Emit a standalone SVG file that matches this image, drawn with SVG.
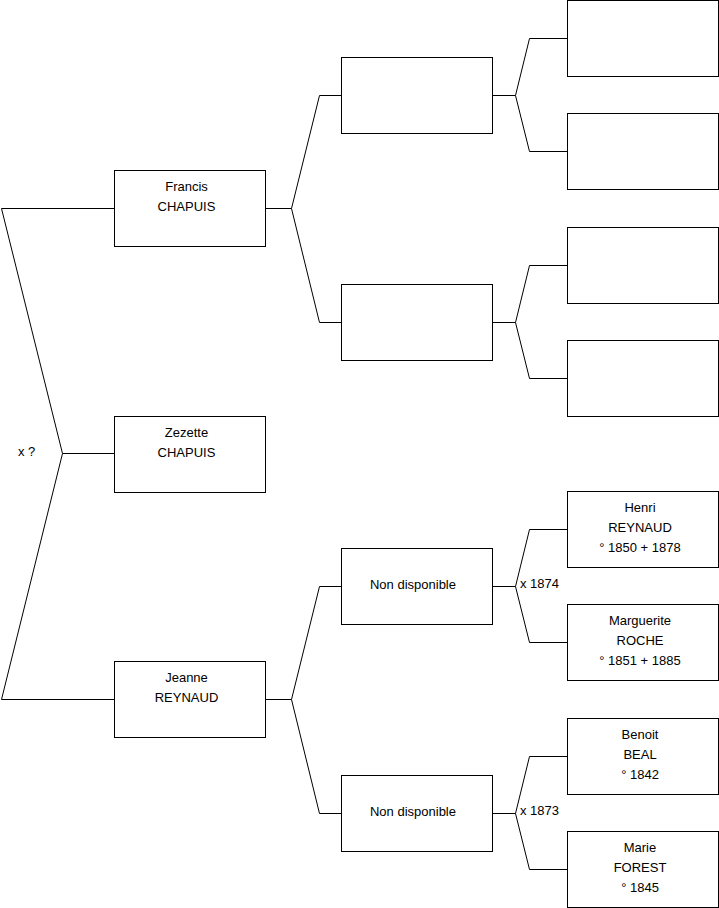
<svg xmlns="http://www.w3.org/2000/svg" width="719" height="908" viewBox="0 0 719 908">
<style>
.box{fill:#fff;stroke:#000;stroke-width:1}
.c{fill:none;stroke:#000;stroke-width:1}
text{font-family:"Liberation Sans",Arial,sans-serif;font-size:13px;fill:#000}
.m{text-anchor:middle}
</style>
<rect width="719" height="908" fill="#fff"/>
<g id="connectors">
<path class="c" d="M114 208.5H1.5L62.5 453.5L1.5 699.5H114M62.5 453.5H114"/>
<path class="c" d="M265 208.5H291.5L319.5 95.5H341M291.5 208.5L319.5 322.5H341"/>
<path class="c" d="M265 699.5H291.5L319.5 586.5H341M291.5 699.5L319.5 813.5H341"/>
<path class="c" d="M492 95.5H515.5L529.5 38.5H567M515.5 95.5L529.5 151.5H567"/>
<path class="c" d="M492 322.5H515.5L529.5 265.5H567M515.5 322.5L529.5 378.5H567"/>
<path class="c" d="M492 586.5H515.5L529.5 529.5H567M515.5 586.5L529.5 642.5H567"/>
<path class="c" d="M492 813.5H515.5L529.5 756.5H567M515.5 813.5L529.5 869.5H567"/>
<text x="18" y="456">x ?</text>
<text x="520" y="588">x 1874</text>
<text x="520" y="815">x 1873</text>
</g>
<g id="francis"><rect class="box" x="114.5" y="170.5" width="151" height="76"/><text class="m" x="186.5" y="191">Francis</text><text class="m" x="186.5" y="211">CHAPUIS</text></g>
<g id="zezette"><rect class="box" x="114.5" y="416.5" width="151" height="76"/><text class="m" x="186.5" y="437">Zezette</text><text class="m" x="186.5" y="457">CHAPUIS</text></g>
<g id="jeanne"><rect class="box" x="114.5" y="661.5" width="151" height="76"/><text class="m" x="186.5" y="682">Jeanne</text><text class="m" x="186.5" y="702">REYNAUD</text></g>
<g id="f-father"><rect class="box" x="341.5" y="57.5" width="151" height="76"/></g>
<g id="f-mother"><rect class="box" x="341.5" y="284.5" width="151" height="76"/></g>
<g id="j-father"><rect class="box" x="341.5" y="548.5" width="151" height="76"/><text class="m" x="413" y="589">Non disponible</text></g>
<g id="j-mother"><rect class="box" x="341.5" y="775.5" width="151" height="76"/><text class="m" x="413" y="816">Non disponible</text></g>
<g id="g3-1"><rect class="box" x="567.5" y="0.5" width="151" height="76"/></g>
<g id="g3-2"><rect class="box" x="567.5" y="113.5" width="151" height="76"/></g>
<g id="g3-3"><rect class="box" x="567.5" y="227.5" width="151" height="76"/></g>
<g id="g3-4"><rect class="box" x="567.5" y="340.5" width="151" height="76"/></g>
<g id="henri"><rect class="box" x="567.5" y="491.5" width="151" height="76"/><text class="m" x="640" y="512">Henri</text><text class="m" x="640" y="532">REYNAUD</text><text class="m" x="640" y="552">° 1850 + 1878</text></g>
<g id="marguerite"><rect class="box" x="567.5" y="604.5" width="151" height="76"/><text class="m" x="640" y="625">Marguerite</text><text class="m" x="640" y="645">ROCHE</text><text class="m" x="640" y="665">° 1851 + 1885</text></g>
<g id="benoit"><rect class="box" x="567.5" y="718.5" width="151" height="76"/><text class="m" x="640" y="739">Benoit</text><text class="m" x="640" y="759">BEAL</text><text class="m" x="640" y="779">° 1842</text></g>
<g id="marie"><rect class="box" x="567.5" y="831.5" width="151" height="76"/><text class="m" x="640" y="852">Marie</text><text class="m" x="640" y="872">FOREST</text><text class="m" x="640" y="892">° 1845</text></g>
</svg>
